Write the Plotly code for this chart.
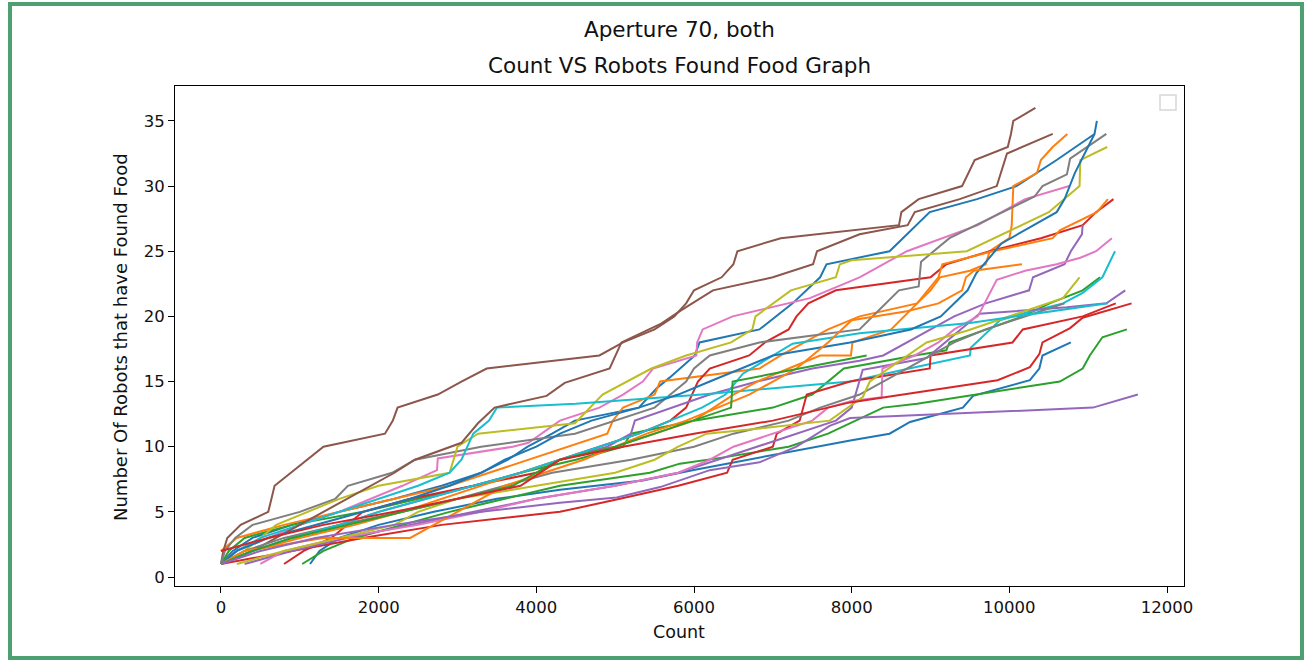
import plotly.graph_objects as go

# ---- data: each run = (count at which robots found food, number of robots found) ----
run01_x = [0, 150, 400, 900, 1500, 2200, 2800, 3300, 3640, 3890, 4200, 4490, 5300, 5530, 5690, 6010, 6070, 6830, 7250, 7600, 7680, 8100, 8480, 8990, 9590, 10090, 10600, 11080, 11110]
run01_y = [1, 2, 3, 4, 5, 6, 7, 8, 9, 10, 11, 12, 13, 14.5, 15.3, 17, 18, 19, 21, 23, 24, 24.5, 25, 28, 29, 30, 32, 34, 35]

run02_x = [0, 200, 800, 1500, 2200, 2900, 3400, 3900, 4400, 4900, 4970, 5100, 5500, 5570, 6830, 7100, 7400, 7700, 8100, 8830, 9000, 9120, 9500, 9700, 9750, 10000, 10030, 10050, 10350, 10400, 10550, 10735]
run02_y = [2, 3, 4, 5, 6, 7, 8, 9, 10, 11, 12, 13, 14, 15, 16, 17, 18, 19, 20, 21, 22, 23, 23.5, 24, 25, 26, 27, 30, 31, 32, 33, 34]

run03_x = [0, 100, 300, 900, 1800, 2500, 3200, 3800, 4500, 5100, 5200, 6000, 7000, 7500, 7900, 8800, 9200, 9240, 9700, 10170, 10510, 10930, 11150]
run03_y = [1, 2, 3, 4, 5, 6, 7, 8, 9, 10, 11, 12, 13, 14, 16, 17, 17.4, 18, 19, 20, 21, 22, 23]

run04_x = [800, 1050, 1400, 1800, 2400, 3200, 4000, 4300, 4800, 5300, 5700, 5900, 6050, 6200, 6700, 6900, 7200, 7300, 7450, 7800, 9000, 9200, 9750, 10400, 10930, 11100, 11320]
run04_y = [1, 2, 3, 5, 6, 7, 8, 9, 10, 11, 12, 13, 15, 16, 17, 18, 19, 20, 21, 22, 23, 24, 25, 26, 27, 28, 29]

run05_x = [0, 400, 900, 1500, 2000, 2600, 3200, 3800, 4300, 4900, 5200, 5250, 6200, 6800, 7500, 8100, 8400, 8700, 9000, 9300, 9700, 10250, 10300, 10700, 10780, 10920, 10930]
run05_y = [1, 2, 3, 4, 5, 6, 7, 8, 9, 10, 11, 12, 14, 15, 16, 16.6, 17, 18, 19, 20, 21, 22, 23, 24, 25, 26.3, 27]

run06_x = [0, 30, 80, 250, 600, 640, 680, 1300, 2080, 2180, 2240, 2750, 3050, 3370, 4800, 5100, 5500, 5750, 5900, 6000, 6350, 6500, 6550, 7100, 8600, 8630, 8850, 9400, 9480, 9560, 9980, 10020, 10050, 10330]
run06_y = [1, 2, 3, 4, 5, 6, 7, 10, 11, 12, 13, 14, 15, 16, 17, 18, 19, 20, 21, 22, 23, 24, 25, 26, 27, 28, 29, 30, 31, 32, 33, 34, 35, 36]

run07_x = [0, 200, 600, 1000, 1500, 1900, 2300, 2740, 2750, 3700, 3900, 4300, 4800, 5100, 5350, 5480, 6030, 6040, 6110, 6490, 6920, 7470, 8100, 8700, 9600, 10200, 10760]
run07_y = [1, 2, 3, 4, 5, 6, 7, 8.2, 9.1, 10, 10.3, 12, 13, 14, 15, 16, 17, 18, 19, 20, 20.6, 21.4, 23, 25, 27, 29, 30]

run08_x = [0, 50, 180, 400, 1000, 1450, 1610, 2170, 2460, 3300, 4490, 5000, 5500, 5700, 5900, 6000, 6200, 6830, 8100, 8300, 8600, 8850, 8880, 9240, 10320, 10420, 10730, 10770, 11230]
run08_y = [1, 2, 3, 4, 5, 6, 7, 8, 9, 10, 11, 12, 13, 14, 15, 16, 17, 18, 19, 20.2, 22, 22.3, 24.2, 26, 29.2, 30, 30.9, 32.1, 34]

run09_x = [0, 300, 700, 1500, 2000, 2900, 3000, 3260, 4490, 4840, 5460, 5900, 6470, 6740, 6780, 7230, 7800, 7850, 8000, 9460, 10500, 10890, 10900, 11240]
run09_y = [1, 2, 4, 6, 7, 8, 10, 11, 11.8, 14, 16, 17, 18, 19, 20, 22, 23, 24, 24.3, 25, 28, 30, 32, 33]

run10_x = [0, 200, 500, 1000, 1500, 2000, 2500, 2900, 3050, 3200, 3400, 3500, 4500, 6100, 7980, 8730, 9500, 9510, 9880, 10220, 10680, 10930, 11180, 11340]
run10_y = [1, 2, 3, 4, 5, 6, 7, 8, 9, 11, 12, 13, 13.3, 14, 15, 16, 17, 17.6, 19.7, 20.3, 21, 21.8, 23, 25]

run11_x = [1130, 1250, 1500, 2000, 2700, 3500, 4300, 5350, 5980, 6420, 6830, 8000, 8480, 8740, 9410, 9540, 10260, 10380, 10420, 10780]
run11_y = [1, 2, 3, 4, 5, 6, 6.7, 7.4, 8.2, 8.7, 9.2, 10.5, 11, 11.9, 13, 13.9, 15.1, 16, 17, 18]

run12_x = [0, 400, 1000, 1700, 2300, 2800, 3300, 3800, 4300, 5000, 5500, 6000, 6500, 6800, 7200, 7600, 7990, 8010, 8500, 8830, 9100, 9150, 9790, 10550, 10640, 11110, 11250]
run12_y = [1, 2, 3, 4, 5, 6, 7, 8, 9, 10, 11, 12, 14, 15, 16, 17, 17, 18, 19, 21, 23, 24, 25, 26, 26.6, 28, 29]

run13_x = [1030, 1300, 1700, 2300, 2900, 3600, 4300, 5440, 5820, 6400, 7200, 7700, 7980, 8400, 8830, 10640, 10930, 11020, 11180, 11490]
run13_y = [1, 2, 3, 4, 5, 6, 7, 8, 8.7, 9.2, 10, 11, 11.8, 13, 13.3, 15, 16, 17, 18.4, 19]

run14_x = [0, 900, 1800, 2800, 4300, 5060, 5800, 6420, 6490, 7000, 7050, 7340, 7430, 7980, 8990, 9000, 10040, 10170, 10930, 11350]
run14_y = [1, 2, 3, 4, 5, 6, 7, 8, 9, 10, 11, 12, 14, 15, 16, 17, 18, 19, 20, 21]

run15_x = [300, 900, 1600, 2400, 3200, 4000, 5000, 5800, 6300, 6800, 7300, 7800, 8000, 8100, 8140, 8320, 8950, 9620, 10730, 11230, 11470]
run15_y = [1, 2, 3, 4, 5, 6, 7, 8, 9, 10, 11, 12, 13, 15, 15.9, 16.1, 16.8, 20.2, 20.7, 21, 22]

run16_x = [0, 400, 700, 1000, 1300, 1600, 1900, 2200, 2460, 3050, 3260, 3470, 4130, 4360, 4930, 5080, 5570, 5820, 6240, 7000, 7510, 7560, 8100, 8710, 8800, 9370, 9840, 9970, 10550]
run16_y = [1, 2, 3, 4, 5, 6, 7, 8, 9, 10.3, 11.8, 13, 13.9, 14.9, 16, 18, 19.4, 20.4, 22, 23, 24, 25, 26.3, 27, 28, 29, 30, 32.5, 34]

run17_x = [500, 800, 1500, 2500, 3300, 4000, 5000, 5800, 6200, 6500, 7000, 7500, 7700, 8000, 8380, 8390, 8800, 9100, 9300, 9600, 9840, 10200, 10600, 10900, 11100, 11300]
run17_y = [1, 2, 3, 4, 5, 6, 7, 8, 9, 10, 11, 12, 13, 13.5, 13.8, 16, 17, 18, 19, 20, 22.8, 23.5, 24, 24.5, 25, 26]

run18_x = [0, 300, 800, 1500, 2300, 3000, 3600, 4200, 5200, 6000, 6500, 7200, 7600, 8100, 8400, 8700, 9000, 9300, 9700, 10200, 10700]
run18_y = [1, 2, 3, 4, 5, 6, 7, 8, 9, 10, 11, 12, 13, 14, 15, 16, 17, 18, 19, 20, 21]

run19_x = [200, 800, 1500, 2200, 2500, 3000, 4000, 5000, 5500, 5800, 6160, 6830, 7720, 8140, 8230, 8950, 9460, 10090, 10680, 10890]
run19_y = [1, 2, 3, 4, 5, 6, 7, 8, 9, 10, 11, 11.4, 12, 13.8, 15, 18, 18.9, 20.2, 21.4, 23]

run20_x = [0, 400, 900, 1500, 2000, 2600, 3200, 3800, 4300, 4800, 5300, 5700, 6100, 6400, 6620, 7250, 8100, 9500, 11250]
run20_y = [1, 2, 3, 4, 5, 6, 7, 8, 9, 10, 11, 12, 13, 14, 15.6, 17.9, 18.7, 19.5, 21]

run21_x = [0, 200, 600, 1200, 1800, 2400, 2900, 3300, 3600, 4000, 4300, 4700, 5300, 5800, 6200, 6600, 7000, 7980, 8750, 9130, 9470, 9580, 9900, 10600, 10700, 10830, 11000, 11080]
run21_y = [1, 2, 3, 4, 5, 6, 7, 8, 9, 10, 11, 12, 13, 14, 15, 16, 17, 18, 19, 20, 22, 23.3, 25.6, 28, 29, 31, 33, 34]

run22_x = [0, 300, 1300, 2400, 2700, 3000, 3300, 3600, 4100, 4600, 5000, 5400, 5900, 6300, 6700, 7000, 7300, 7500, 7700, 8000, 8700, 9100, 9400, 9450, 9550, 10160]
run22_y = [1, 2, 3, 3, 4, 5, 6, 7, 8, 9, 10, 11, 12, 13, 14, 15, 16, 17, 18, 19.7, 20.4, 21, 22, 23, 23.5, 24]

run23_x = [0, 400, 900, 1600, 2300, 3000, 3700, 4300, 5000, 5500, 6000, 6470, 6490, 7800, 8190]
run23_y = [1, 2, 3, 4, 5, 6, 7, 9, 10, 11, 12, 13, 15, 16.5, 17]

run24_x = [0, 600, 1300, 2200, 3000, 3800, 4300, 5100, 6000, 7000, 7980, 9850, 10260, 10380, 10420, 10770, 10930, 11550]
run24_y = [2, 3, 4, 5, 6, 7, 9, 10, 11, 12, 13.4, 15.1, 16.1, 17.1, 18, 19.1, 19.9, 21]

run25_x = [0, 500, 1200, 2200, 3300, 4300, 5020, 5570, 6200, 6830, 7300, 7720, 7980, 9590, 11060, 11630]
run25_y = [1, 2, 3, 4, 5, 5.7, 6.1, 6.9, 8.2, 8.8, 10, 11.6, 12.2, 12.6, 13, 14]

x_ticks = [0, 2000, 4000, 6000, 8000, 10000, 12000]
x_tick_labels = ["0", "2000", "4000", "6000", "8000", "10000", "12000"]
y_ticks = [0, 5, 10, 15, 20, 25, 30, 35]
y_tick_labels = ["0", "5", "10", "15", "20", "25", "30", "35"]

title_top = "Aperture 70, both"
title_sub = "Count VS Robots Found Food Graph"
x_label = "Count"
y_label = "Number Of Robots that have Found Food"

palette = ["#1f77b4", "#ff7f0e", "#2ca02c", "#d62728", "#9467bd",
           "#8c564b", "#e377c2", "#7f7f7f", "#bcbd22", "#17becf"]

runs = [
    (run01_x, run01_y), (run02_x, run02_y), (run03_x, run03_y), (run04_x, run04_y), (run05_x, run05_y),
    (run06_x, run06_y), (run07_x, run07_y), (run08_x, run08_y), (run09_x, run09_y), (run10_x, run10_y),
    (run11_x, run11_y), (run12_x, run12_y), (run13_x, run13_y), (run14_x, run14_y), (run15_x, run15_y),
    (run16_x, run16_y), (run17_x, run17_y), (run18_x, run18_y), (run19_x, run19_y), (run20_x, run20_y),
    (run21_x, run21_y), (run22_x, run22_y), (run23_x, run23_y), (run24_x, run24_y), (run25_x, run25_y),
]

FONT = "DejaVu Sans"
TXT = "#111111"

fig = go.Figure()
for i, (xs, ys) in enumerate(runs):
    fig.add_trace(go.Scatter(x=xs, y=ys, mode="lines",
                             line=dict(color=palette[i % 10], width=2),
                             showlegend=False, hoverinfo="skip"))

# plot area in pixels: x 175..1184, y 86..586
L, R, T, B = 175, 1184, 86, 586
W, H = 1304, 660
def px(xp):
    return (xp - L) / (R - L)
def py(yp):
    return (B - yp) / (B - T)

axis_common = dict(showgrid=False, zeroline=False, showline=True, linecolor="black",
                   linewidth=1, mirror=True, ticks="outside", ticklen=6, tickwidth=1,
                   tickcolor="black", tickfont=dict(family=FONT, size=16.5, color=TXT))

fig.update_layout(
    width=W, height=H,
    margin=dict(l=L, r=W - R, t=T, b=H - B, pad=0),
    paper_bgcolor="white", plot_bgcolor="white",
    xaxis=dict(range=[-583, 12215], tickvals=x_ticks, ticktext=x_tick_labels, **axis_common),
    yaxis=dict(range=[-0.69, 37.68], tickvals=y_ticks, ticktext=y_tick_labels, **axis_common),
    font=dict(family=FONT, color=TXT),
)

fig.add_annotation(text=title_top, x=px(679), y=py(30), xref="paper", yref="paper",
                   showarrow=False, xanchor="center", yanchor="middle",
                   font=dict(family=FONT, size=21.5, color=TXT))
fig.add_annotation(text=title_sub, x=px(679), y=py(66), xref="paper", yref="paper",
                   showarrow=False, xanchor="center", yanchor="middle",
                   font=dict(family=FONT, size=21.5, color=TXT))
fig.add_annotation(text=x_label, x=px(679), y=py(632), xref="paper", yref="paper",
                   showarrow=False, xanchor="center", yanchor="middle",
                   font=dict(family=FONT, size=17.5, color=TXT))
fig.add_annotation(text=y_label, x=px(120), y=py(337), xref="paper", yref="paper",
                   showarrow=False, xanchor="center", yanchor="middle", textangle=-90,
                   font=dict(family=FONT, size=18, color=TXT))

# empty legend box
fig.add_shape(type="rect", xref="paper", yref="paper",
              x0=px(1160), x1=px(1176), y0=py(110), y1=py(95),
              line=dict(color="#d6d6d6", width=1.5), fillcolor="white")

# green frame around the screenshot
fig.add_shape(type="rect", xref="paper", yref="paper",
              x0=px(10), x1=px(1302), y0=py(658), y1=py(4),
              line=dict(color="#4ea070", width=4), fillcolor="rgba(0,0,0,0)", layer="above")

fig.write_html("out.html")
